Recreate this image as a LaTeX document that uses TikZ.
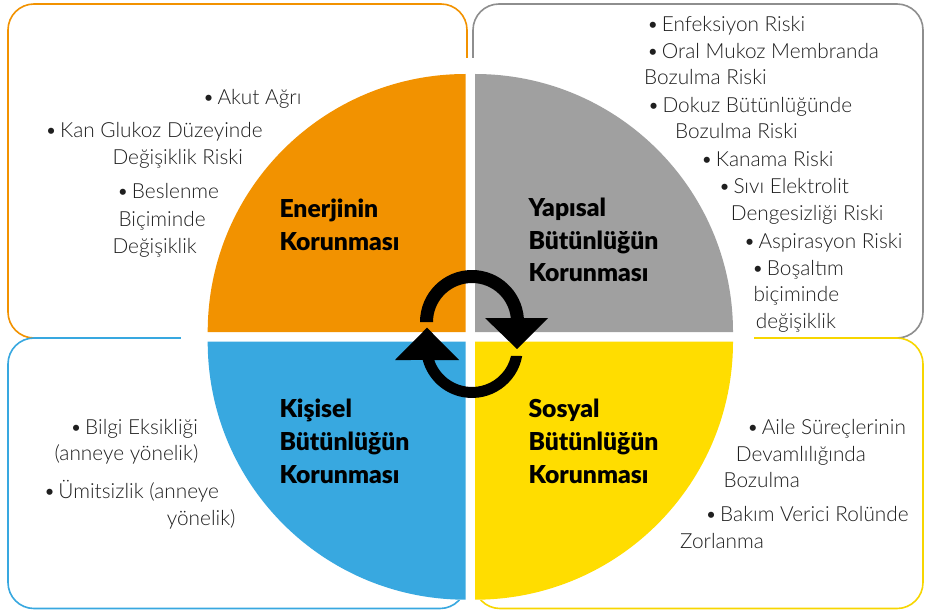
\documentclass[tikz,border=0pt]{standalone}
\usepackage{fontspec}
\setmainfont{Lato}
\newfontfamily\bodyfont{Lato Light}
\newfontfamily\headfont{Lato Black}
\newcommand\bul{\makebox[15pt][l]{•}}
\definecolor{cOrange}{HTML}{F29200}
\definecolor{cGray}{HTML}{A0A0A0}
\definecolor{cGrayLine}{HTML}{8E8E8E}
\definecolor{cBlue}{HTML}{38A8E0}
\definecolor{cYellow}{HTML}{FFDD00}
\definecolor{cYellowLine}{HTML}{F7D600}
\tikzset{
  outerbox/.style={line width=1.6pt, rounded corners=26pt},
  body/.style={anchor=base west, inner sep=0pt, text=black!88, font=\bodyfont\fontsize{20.8}{24}\selectfont},
  head/.style={anchor=base west, inner sep=0pt, align=left, font=\headfont\fontsize{24.7}{32.7}\selectfont},
  cyclearrow/.style={fill=black, draw=none}
}
\begin{document}
\begin{tikzpicture}[x=1pt,y=1pt]
\useasboundingbox (0,0) rectangle (925,614);
\fill[white] (0,0) rectangle (925,614);

% outer rounded frames
\draw[outerbox, cOrange] (8,610) rectangle (467,276);
\draw[outerbox, cGrayLine] (473,610) rectangle (923,276);
\draw[outerbox, cBlue] (8,276) rectangle (466,5.5);
\draw[outerbox, cYellowLine] (474,276) rectangle (923,5.5);

% white backing behind the central disc
\fill[white] (181,556) rectangle (754,14);

% four quarter discs
\coordinate (cTL) at (465.7,282);
\coordinate (cTR) at (475,282);
\coordinate (cBL) at (465.7,272.3);
\coordinate (cBR) at (475,272.3);
\fill[cOrange] (cTL) -- ++(-258,0) arc[start angle=180, end angle=90, radius=258] -- cycle;
\fill[cGray] (cTR) -- ++(0,258) arc[start angle=90, end angle=0, radius=258] -- cycle;
\fill[cBlue] (cBL) -- ++(0,-258) arc[start angle=270, end angle=180, radius=258] -- cycle;
\fill[cYellow] (cBR) -- ++(258,0) arc[start angle=0, end angle=-90, radius=258] -- cycle;

% circular arrows in the middle
\fill[cyclearrow] (420,292) arc[start angle=180, end angle=4.4, radius=52]
  -- (548,296) -- (517,265) -- (485,296) -- (510.8,296)
  arc[start angle=5.9, end angle=180, radius=39] -- cycle;
\fill[cyclearrow] (522.2,258) arc[start angle=-10.2, end angle=-165.2, radius=51]
  -- (395,254) -- (427,286.3) -- (459,254) -- (434.2,254)
  arc[start angle=-161, end angle=-13, radius=40] -- cycle;

% quadrant titles (anchored at the baseline of the last line)
\node[head] (hEnerji) at (279.3,364) {Enerjinin\\Korunması};
\node[head] (hYapi) at (528.3,332.3) {Yapısal\\Bütünlüğün\\Korunması};
\node[head] (hKisi) at (279.3,130.7) {Kişisel\\Bütünlüğün\\Korunması};
\node[head] (hSosyal) at (528.3,130.7) {Sosyal\\Bütünlüğün\\Korunması};

% energy items
\node[body] (e1) at (202.3,509.7) {\bul Akut Ağrı};
\node[body] (e2) at (45,476.3) {\bul Kan Glukoz Düzeyinde};
\node[body] (e3) at (112.3,449) {Değişiklik Riski};
\node[body] (e4) at (116.7,415) {\bul Beslenme};
\node[body] (e5) at (118.3,388) {Biçiminde};
\node[body] (e6) at (112.3,360.7) {Değişiklik};

% structural integrity items
\node[body] (y1) at (646.7,582.3) {\bul Enfeksiyon Riski};
\node[body] (y2) at (646.7,555.7) {\bul Oral Mukoz Membranda};
\node[body] (y3) at (644,529) {Bozulma Riski};
\node[body] (y4) at (647.3,501.7) {\bul Dokuz Bütünlüğünde};
\node[body] (y5) at (675,475) {Bozulma Riski};
\node[body] (y6) at (700.7,447.3) {\bul Kanama Riski};
\node[body] (y7) at (718.3,420) {\bul Sıvı Elektrolit};
\node[body] (y8) at (730.7,393.3) {Dengesizliği Riski};
\node[body] (y9) at (743.3,365.7) {\bul Aspirasyon Riski};
\node[body] (y10) at (751.7,339) {\bul Boşaltım};
\node[body] (y11) at (753.3,312.3) {biçiminde};
\node[body] (y12) at (755.7,285.7) {değişiklik};

% personal integrity items
\node[body] (k1) at (70,180) {\bul Bilgi Eksikliği};
\node[body] (k2) at (54.3,154) {(anneye yönelik)};
\node[body] (k3) at (43.3,115.7) {\bul Ümitsizlik (anneye};
\node[body] (k4) at (166.7,89) {yönelik)};

% social integrity items
\node[body] (s1) at (746.7,179.7) {\bul Aile Süreçlerinin};
\node[body] (s2) at (735.7,153) {Devamlılığında};
\node[body] (s3) at (723.3,126.7) {Bozulma};
\node[body] (s4) at (705,92.3) {\bul Bakım Verici Rolünde};
\node[body] (s5) at (680,65.7) {Zorlanma};
\end{tikzpicture}
\end{document}
